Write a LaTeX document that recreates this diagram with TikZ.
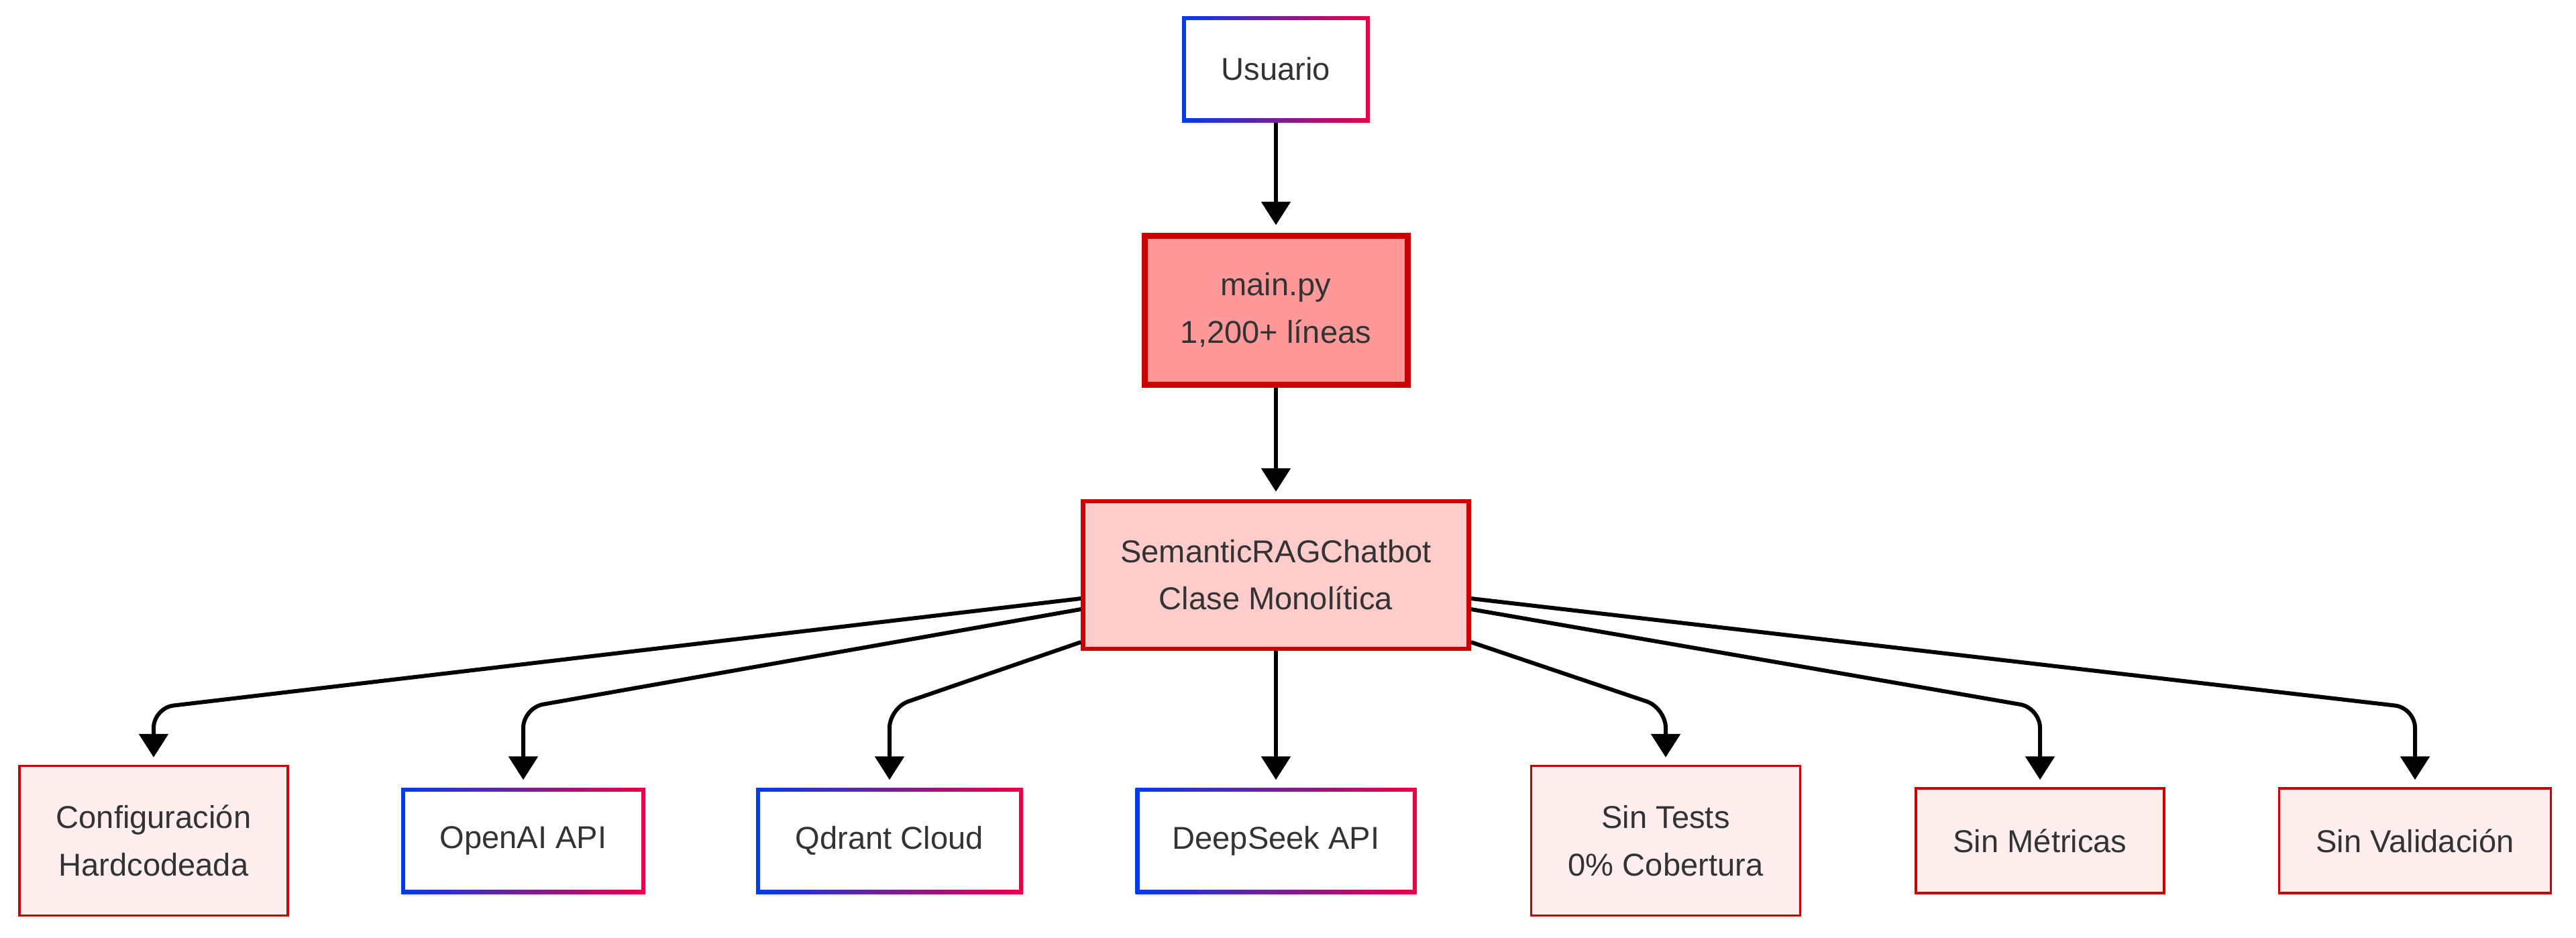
\documentclass[tikz,border=0pt]{standalone}
\usepackage{fontspec}
\setmainfont{Liberation Sans}
\usetikzlibrary{positioning,arrows.meta,shadows}
\definecolor{myblue}{RGB}{0,60,235}
\definecolor{myred}{RGB}{235,0,70}
\definecolor{mydarkred}{RGB}{204,0,0}
\definecolor{mypink}{RGB}{255,153,153}
\definecolor{mylightpink}{RGB}{255,204,204}
\definecolor{mypalepink}{RGB}{255,238,238}
\definecolor{mytext}{RGB}{51,51,51}
\tikzstyle{mynode}=[align=center, rectangle, text=mytext, inner sep=0pt, minimum height=1.58cm, drop shadow={shadow xshift=0.02cm,shadow yshift=-0.04cm,opacity=0.12}]
\tikzstyle{service}=[mynode, left color=myblue, right color=myred, path picture={\fill[white] ([shift={(0.06cm,0.06cm)}]path picture bounding box.south west) rectangle ([shift={(-0.06cm,-0.06cm)}]path picture bounding box.north east);}]
\tikzstyle{core}=[mynode, draw=mydarkred, fill=mypink, line width=0.09cm, minimum height=2.22cm]
\tikzstyle{module}=[mynode, draw=mydarkred, fill=mylightpink, line width=0.065cm, minimum height=2.2cm]
\tikzstyle{issue}=[mynode, draw=mydarkred, fill=mypalepink, line width=0.035cm, minimum height=1.56cm]
\tikzstyle{connect arrow}=[-{Triangle[length=0.35cm,width=0.43cm]}, line width=0.06cm, black, shorten >=0.11cm, rounded corners=0.3cm]

\begin{document}
\begin{tikzpicture}[
    node distance=4cm,
    on grid,
    font=\fontsize{13.4pt}{20pt}\selectfont]

\useasboundingbox (0,0) rectangle (38.4,-13.97);

\node[service, minimum width=2.8cm] (user) at (19.02,-1.03) {Usuario};
\node[core, minimum width=3.92cm] (main) [below=3.59cm of user] {main.py\\1,200+ líneas};
\node[module, minimum width=5.75cm] (chatbot) [below=3.95cm of main] {SemanticRAGChatbot\\Clase Monolítica};

% bottom row
\node[issue, minimum width=4.0cm, minimum height=2.23cm] (config) at (2.29,-12.53) {Configuración\\Hardcodeada};
\node[service, minimum width=3.64cm] (openai) at (7.8,-12.53) {OpenAI API};
\node[service, minimum width=3.98cm] (qdrant) at (13.26,-12.53) {Qdrant Cloud};
\node[service, minimum width=4.19cm] (deepseek) at (19.02,-12.53) {DeepSeek API};
\node[issue, minimum width=4.01cm, minimum height=2.23cm] (tests) at (24.83,-12.53) {Sin Tests\\0\% Cobertura};
\node[issue, minimum width=3.7cm] (metrics) at (30.41,-12.53) {Sin Métricas};
\node[issue, minimum width=4.05cm] (validation) at (36.0,-12.53) {Sin Validación};

\coordinate (kink) at (0,-10.55);

\begin{scope}[connect arrow]
    \draw (user) -- (main);
    \draw (main) -- (chatbot);
    \draw (chatbot) -- (deepseek);

    \draw ([yshift=-0.35cm]chatbot.west) -- (config.north |- kink) -- (config.north);
    \draw ([yshift=-0.51cm]chatbot.west) -- (openai.north |- kink) -- (openai.north);
    \draw ([yshift=-1.0cm]chatbot.west) -- (qdrant.north |- kink) -- (qdrant.north);

    \draw ([yshift=-1.0cm]chatbot.east) -- (tests.north |- kink) -- (tests.north);
    \draw ([yshift=-0.51cm]chatbot.east) -- (metrics.north |- kink) -- (metrics.north);
    \draw ([yshift=-0.35cm]chatbot.east) -- (validation.north |- kink) -- (validation.north);
\end{scope}

\end{tikzpicture}
\end{document}
